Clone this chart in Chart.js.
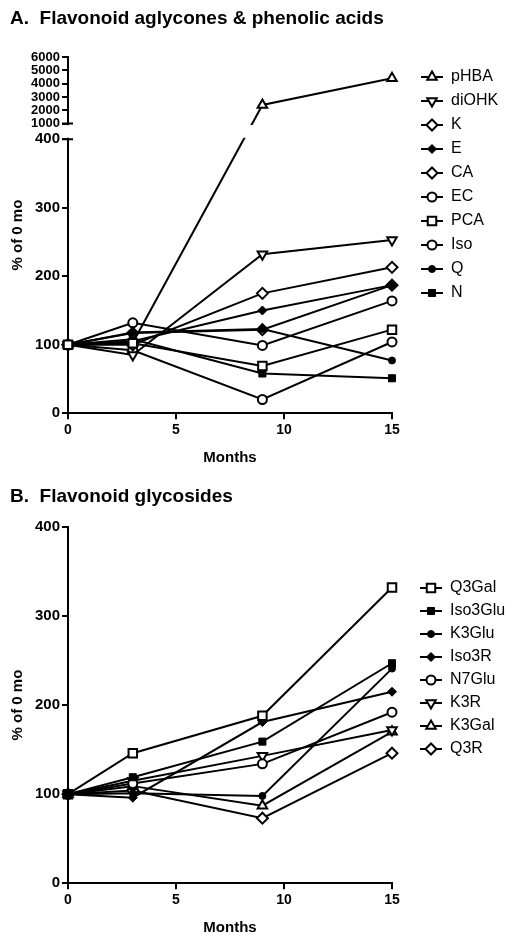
<!DOCTYPE html>
<html>
<head>
<meta charset="utf-8">
<title>Flavonoids over storage time</title>
<script src="https://cdn.jsdelivr.net/npm/chart.js@4.4.1/dist/chart.umd.min.js"></script>
<style>
  html, body { margin: 0; padding: 0; background: #fff; }
  .panel { position: absolute; left: 0; }
  #wrapA { top: 0; }
  #wrapB { top: 470px; }
</style>
</head>
<body>
<div class="panel" id="wrapA"><canvas id="chartA" width="521" height="470"></canvas></div>
<div class="panel" id="wrapB"><canvas id="chartB" width="521" height="473"></canvas></div>
<script>
// storage time (months) and axis ticks
const months = [0, 3, 9, 15];
const monthTicks = [0, 5, 10, 15];

// A. aglycones & phenolic acids (% of 0 mo)
const namesA = ['pHBA', 'diOHK', 'K', 'E', 'CA', 'EC', 'PCA', 'Iso', 'Q', 'N'];
const pHBA = [100, 103, 2400, 4400];
const diOHK = [100, 85, 232, 253];
const K = [100, 100, 175, 213];
const E = [100, 105, 150, 187];
const CA = [100, 117, 122, 187];
const EC = [100, 132, 99, 164];
const PCA = [100, 102, 69, 122];
const Iso = [100, 92, 20, 104];
const Q = [100, 118, 123, 77];
const N = [100, 108, 58, 51];
const yTicksA = [0, 100, 200, 300, 400, 1000, 2000, 3000, 4000, 5000, 6000];

// B. glycosides (% of 0 mo)
const namesB = ['Q3Gal', 'Iso3Glu', 'K3Glu', 'Iso3R', 'N7Glu', 'K3R', 'K3Gal', 'Q3R'];
const Q3Gal = [100, 146, 188, 332];
const Iso3Glu = [100, 119, 159, 247];
const K3Glu = [100, 101, 98, 241];
const Iso3R = [100, 96, 181, 215];
const N7Glu = [100, 112, 134, 192];
const K3R = [100, 115, 143, 172];
const K3Gal = [100, 109, 87, 170];
const Q3R = [100, 104, 73, 146];
const yTicksB = [0, 100, 200, 300, 400];

// the axis break on panel A: 0-400 below, 1000-6000 above
const BREAK_LOW = 400;
const BREAK_HIGH = 1000;
const AXIS_TOP = 6000;
const LOWER_FRAC = 0.769;   // share of the axis taken by 0-400
const UPPER_START = 0.813;  // where 1000 sits

// marker looks
const markers = {
  triUp:      { pointStyle: 'triangle', rotation: 0,   radius: 5.5, fill: '#fff', border: 2 },
  triDown:    { pointStyle: 'triangle', rotation: 180, radius: 5.5, fill: '#fff', border: 2 },
  diamond:    { pointStyle: 'rectRot',  rotation: 0,   radius: 5.5, fill: '#fff', border: 2 },
  diamondFill:{ pointStyle: 'rectRot',  rotation: 0,   radius: 4.5, fill: '#000', border: 1 },
  circle:     { pointStyle: 'circle',   rotation: 0,   radius: 4.5, fill: '#fff', border: 2 },
  circleFill: { pointStyle: 'circle',   rotation: 0,   radius: 3.5, fill: '#000', border: 1 },
  square:     { pointStyle: 'rect',     rotation: 0,   radius: 6,   fill: '#fff', border: 2 },
  squareFill: { pointStyle: 'rect',     rotation: 0,   radius: 5,   fill: '#000', border: 1 }
};
const stylesA = ['triUp', 'triDown', 'diamond', 'diamondFill', 'diamond', 'circle', 'square', 'circle', 'circleFill', 'squareFill'];
const stylesB = ['square', 'squareFill', 'circleFill', 'diamondFill', 'circle', 'triDown', 'triUp', 'diamond'];
// series whose markers sit on top where they overlap others (first = topmost)
const onTopA = ['PCA', 'E', 'Q'];
const onTopB = ['Iso3Glu'];

Chart.defaults.font.family = '"Liberation Sans", Arial, sans-serif';
Chart.defaults.color = '#000';

// linear scale squeezed into two pieces
class BrokenScale extends Chart.LinearScale {
  getPixelForValue(value) {
    if (value === null || value === undefined || isNaN(value)) return NaN;
    let dec;
    if (value <= BREAK_LOW) {
      dec = value / BREAK_LOW * LOWER_FRAC;
    } else if (value >= BREAK_HIGH) {
      dec = UPPER_START + (value - BREAK_HIGH) / (AXIS_TOP - BREAK_HIGH) * (1 - UPPER_START);
    } else {
      dec = LOWER_FRAC + (value - BREAK_LOW) / (BREAK_HIGH - BREAK_LOW) * (UPPER_START - LOWER_FRAC);
    }
    return this.getPixelForDecimal(dec);
  }
  buildTicks() {
    return yTicksA.map(v => ({ value: v }));
  }
}
BrokenScale.id = 'broken';
BrokenScale.defaults = Chart.LinearScale.defaults;
Chart.register(BrokenScale);

function makeDataset(label, values, style, onTop) {
  const m = markers[style];
  const rank = onTop.indexOf(label);
  return {
    label: label,
    data: months.map((mo, i) => ({ x: mo, y: values[i] })),
    order: rank >= 0 ? rank - onTop.length : 0,
    borderColor: '#000',
    borderWidth: 2,
    pointStyle: m.pointStyle,
    pointRotation: m.rotation,
    pointRadius: m.radius,
    pointHoverRadius: m.radius,
    pointBackgroundColor: m.fill,
    pointBorderColor: '#000',
    pointBorderWidth: m.border,
    tension: 0,
    fill: false,
    clip: false,
    styleName: style
  };
}

// little "-o-" icon for the legend
function legendIcon(style) {
  const m = markers[style];
  const c = document.createElement('canvas');
  c.width = 22;
  c.height = 16;
  const ctx = c.getContext('2d');
  ctx.strokeStyle = '#000';
  ctx.lineWidth = 2;
  ctx.beginPath();
  ctx.moveTo(0, 8);
  ctx.lineTo(22, 8);
  ctx.stroke();
  ctx.fillStyle = m.fill;
  ctx.lineWidth = m.border;
  Chart.helpers.drawPoint(ctx, { pointStyle: m.pointStyle, rotation: m.rotation, radius: m.radius, borderWidth: m.border }, 11, 8);
  return c;
}

const breakPlugin = {
  id: 'axisBreak',
  afterLayout(chart) {
    // let the legend text run to the canvas edge instead of being clipped
    const lg = chart.legend;
    lg.right = chart.width;
    lg.width = lg.right - lg.left;
  },
  afterDatasetsDraw(chart) {
    const y = chart.scales.y;
    if (y.type !== 'broken') return;
    const area = chart.chartArea;
    const ctx = chart.ctx;
    const lo = y.getPixelForValue(BREAK_LOW);
    const hi = y.getPixelForValue(BREAK_HIGH);
    ctx.save();
    ctx.fillStyle = '#fff';
    ctx.fillRect(area.left - 2, hi + 1.5, area.right - area.left + 12, lo - hi - 3);
    ctx.strokeStyle = '#000';
    ctx.lineWidth = 2;
    ctx.beginPath();
    ctx.moveTo(area.left - 6, hi); ctx.lineTo(area.left + 5, hi);
    ctx.moveTo(area.left - 6, lo); ctx.lineTo(area.left + 5, lo);
    ctx.stroke();
    ctx.restore();
  }
};

function makeChart(canvasId, title, titlePad, names, series, styles, onTop, yScale, legendTop, rowGap, bottomPad) {
  const ctx = document.getElementById(canvasId).getContext('2d');
  return new Chart(ctx, {
    type: 'line',
    data: {
      datasets: names.map((n, i) => makeDataset(n, series[i], styles[i], onTop))
    },
    options: {
      responsive: false,
      animation: false,
      events: [],
      layout: { padding: { top: 2, left: 10, right: 28, bottom: bottomPad } },
      scales: {
        x: {
          type: 'linear',
          min: 0,
          max: 15,
          afterBuildTicks: s => { s.ticks = monthTicks.map(v => ({ value: v })); },
          grid: { drawOnChartArea: false, color: '#000', lineWidth: 2, tickLength: 6 },
          border: { color: '#000', width: 2 },
          ticks: { padding: 3, font: { size: 14, weight: 'bold' }, callback: v => String(v) },
          title: { display: true, text: 'Months', font: { size: 15, weight: 'bold' }, padding: { top: 7, bottom: 0 } }
        },
        y: yScale,
        y2: {
          position: 'right',
          grid: { display: false },
          border: { display: false },
          ticks: { display: false },
          afterFit: s => { s.width = 21; }
        }
      },
      plugins: {
        title: {
          display: true,
          text: title,
          align: 'start',
          color: '#000',
          font: { size: 19, weight: 'bold' },
          padding: titlePad
        },
        legend: {
          position: 'right',
          align: 'start',
          maxWidth: 80,
          title: { display: true, text: '', font: { size: 12, lineHeight: 1.2 }, padding: { top: legendTop - 14.4, bottom: 0 } },
          labels: {
            usePointStyle: true,
            pointStyleWidth: 22,
            padding: rowGap,
            color: '#000',
            font: { size: 16 },
            generateLabels: chart => chart.data.datasets.map((ds, i) => ({
              text: ds.label,
              pointStyle: legendIcon(ds.styleName),
              datasetIndex: i,
              lineWidth: 0,
              hidden: false
            }))
          }
        },
        tooltip: { enabled: false }
      }
    },
    plugins: [breakPlugin]
  });
}

function yAxis(type, extra) {
  return Object.assign({
    type: type,
    min: 0,
    grid: { drawOnChartArea: false, color: '#000', lineWidth: 2, tickLength: 6 },
    border: { color: '#000', width: 2 },
    ticks: {
      autoSkip: false,
      padding: 2,
      font: c => ({ size: c.tick && c.tick.value >= BREAK_HIGH ? 13 : 15, weight: 'bold' }),
      callback: v => String(v)
    },
    title: { display: true, text: '% of 0 mo', font: { size: 15, weight: 'bold', lineHeight: 1 }, padding: 0 },
    afterFit: s => { s.width = 58; }
  }, extra);
}

document.addEventListener('DOMContentLoaded', () => {
  makeChart('chartA', 'A.  Flavonoid aglycones & phenolic acids', { top: 5, bottom: 27.2 },
    namesA, [pHBA, diOHK, K, E, CA, EC, PCA, Iso, Q, N], stylesA, onTopA,
    yAxis('broken', { max: AXIS_TOP }), 59, 8, 3);

  makeChart('chartB', 'B.  Flavonoid glycosides', { top: 13.3, bottom: 18.9 },
    namesB, [Q3Gal, Iso3Glu, K3Glu, Iso3R, N7Glu, K3R, K3Gal, Q3R], stylesB, onTopB,
    yAxis('linear', { max: 400, afterBuildTicks: s => { s.ticks = yTicksB.map(v => ({ value: v })); } }), 101, 7, 6);
});
</script>
</body>
</html>
